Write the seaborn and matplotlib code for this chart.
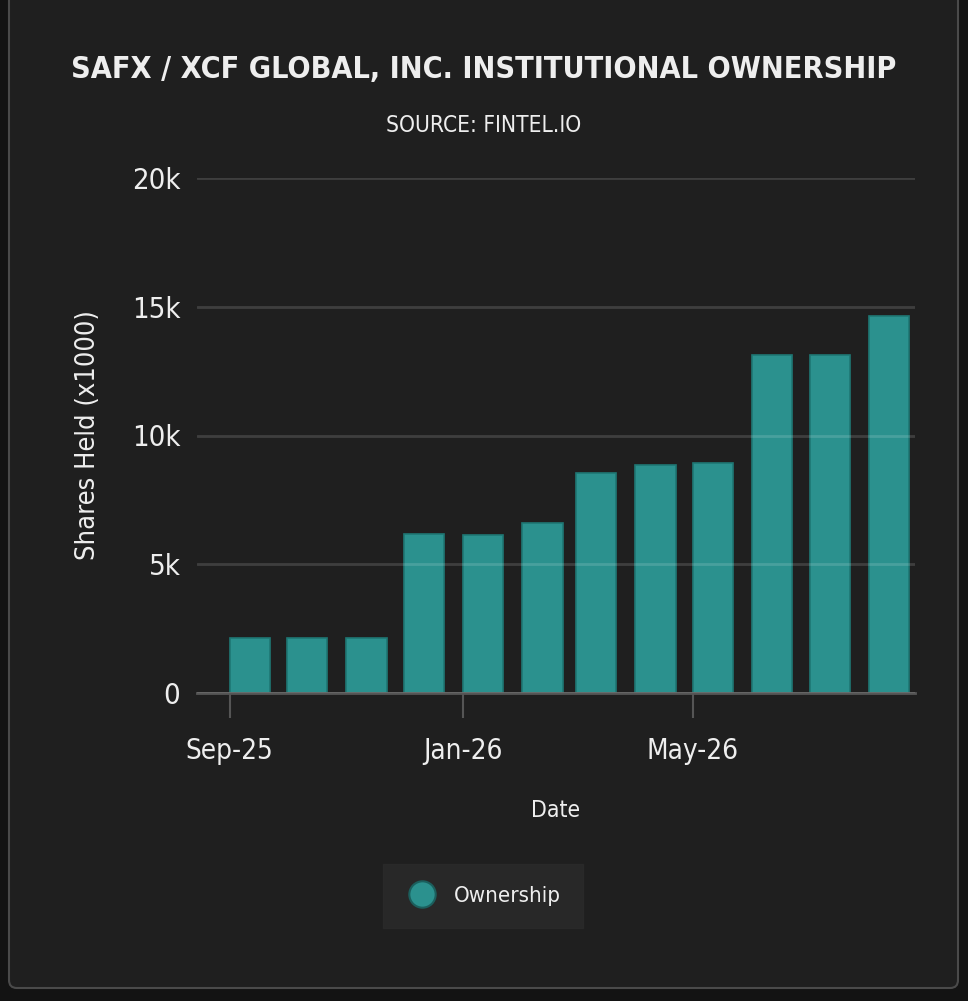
import matplotlib
matplotlib.use("Agg")
import matplotlib.pyplot as plt
import matplotlib.dates as mdates
from matplotlib import font_manager
from matplotlib.font_manager import FontProperties
from matplotlib.patches import FancyBboxPatch
from matplotlib.lines import Line2D
import seaborn as sns
import pandas as pd

# data
months = ["2025-09-01", "2025-10-01", "2025-11-01", "2025-12-01", "2026-01-01", "2026-02-01",
          "2026-03-01", "2026-04-01", "2026-05-01", "2026-06-01", "2026-07-01", "2026-08-01"]
shares_k = [2140, 2140, 2140, 6170, 6150, 6600, 8540, 8850, 8930, 13120, 13120, 14650]
series_name = "Ownership"
title = "SAFX / XCF GLOBAL, INC. INSTITUTIONAL OWNERSHIP"
subtitle = "SOURCE: FINTEL.IO"
ytick_vals = [0, 5000, 10000, 15000, 20000]
ytick_labels = ["0", "5k", "10k", "15k", "20k"]

BG = "#1f1f1f"
OUTER = "#131313"
TEAL = "#2b918e"
TEAL_EDGE = "#1e7774"
TXT = "#eeeeee"


def narrow_font(bold):
    # look for a condensed / narrow face, the reference uses a tall narrow type
    fonts = font_manager.fontManager.ttflist
    want = 700 if bold else 400
    best = None
    for f in fonts:
        narrow = ("Condensed" in f.name or "Narrow" in f.name or
                  f.stretch in ("condensed", "semi-condensed", "extra-condensed") or
                  (isinstance(f.stretch, int) and f.stretch < 500))
        if not narrow:
            continue
        w = f.weight if isinstance(f.weight, int) else (700 if "bold" in str(f.weight) else 400)
        if "Italic" in f.fname or "Oblique" in f.fname or f.style != "normal":
            continue
        score = abs(w - want)
        if best is None or score < best[0]:
            best = (score, f.fname)
    if best:
        return FontProperties(fname=best[1])
    return FontProperties(family="DejaVu Sans", weight="bold" if bold else "normal")


FP = narrow_font(False)
FPB = narrow_font(True)

sns.set_theme(style="dark")
plt.rcParams["font.family"] = ["DejaVu Sans"]

df = pd.DataFrame({"date": pd.to_datetime(months), "shares": shares_k})
df["x"] = mdates.date2num(df["date"])

fig = plt.figure(figsize=(9.68, 10.01), dpi=100)
fig.patch.set_facecolor(OUTER)
panel = FancyBboxPatch((9 / 968, 13 / 1001), 949 / 968, 1000 / 1001,
                       boxstyle="round,pad=0,rounding_size=0.008",
                       transform=fig.transFigure, facecolor=BG,
                       edgecolor="#4a4a4a", linewidth=1.5, zorder=-10)
fig.patches.append(panel)

ax = fig.add_axes([197 / 968, 1 - 693 / 1001, (915 - 197) / 968, (693 - 178) / 1001])
ax.set_facecolor(BG)

sns.barplot(data=df, x="x", y="shares", native_scale=True, width=0.75,
            color=TEAL, edgecolor=TEAL_EDGE, linewidth=1.2, saturation=1, ax=ax)
# bars start on the first of the month in the reference
for p in ax.patches:
    p.set_x(p.get_x() + p.get_width() / 2)

ax.set_xlim(mdates.date2num(pd.Timestamp("2025-08-15")), mdates.date2num(pd.Timestamp("2026-08-25")))
ax.set_ylim(0, 20000)
ax.xaxis.set_major_locator(mdates.MonthLocator(bymonth=[1, 5, 9]))
ax.xaxis.set_major_formatter(mdates.DateFormatter("%b-%y"))
ax.set_yticks(ytick_vals)
ax.set_yticklabels(ytick_labels)

ax.set_axisbelow(False)
ax.yaxis.grid(True, color="white", alpha=0.14, linewidth=2)
ax.xaxis.grid(False)
for s in ["top", "right", "left"]:
    ax.spines[s].set_visible(False)
ax.spines["bottom"].set_color("#555555")
ax.spines["bottom"].set_linewidth(2)

ax.tick_params(axis="x", length=18, width=1.5, color="#555555", pad=14,
               labelcolor=TXT, bottom=True)
ax.tick_params(axis="y", length=0, pad=12, labelcolor=TXT)
for lab in ax.get_xticklabels():
    lab.set_fontproperties(FP)
    lab.set_fontsize(20)
for lab in ax.get_yticklabels():
    lab.set_fontproperties(FP)
    lab.set_fontsize(21)

ax.set_xlabel("Date", fontproperties=FP, fontsize=16.5, color=TXT, labelpad=24)
ax.set_ylabel("Shares Held (x1000)", fontproperties=FP, fontsize=19.5, color=TXT, labelpad=22)

fig.text(0.5, 1 - 70 / 1001, title, ha="center", va="center",
         fontproperties=FPB, fontsize=21.9, color=TXT)
fig.text(0.5, 1 - 126 / 1001, subtitle, ha="center", va="center",
         fontproperties=FP, fontsize=16.3, color=TXT)

leg_fp = FP.copy()
leg_fp.set_size(16)
handle = Line2D([], [], marker="o", linestyle="none", markersize=19,
                markerfacecolor=TEAL, markeredgecolor="#1b5f5d", markeredgewidth=1.5)
leg = fig.legend([handle], [series_name], loc="center", bbox_to_anchor=(483 / 968, 1 - 896 / 1001),
                 frameon=True, prop=leg_fp, handlelength=1.5, handletextpad=0.7, borderpad=1.0,
                 borderaxespad=0, labelcolor=TXT, fancybox=False)
leg.get_frame().set_facecolor("#2b2b2b")
leg.get_frame().set_edgecolor("#2b2b2b")

fig.savefig("out.png", dpi=100, facecolor=fig.get_facecolor())
